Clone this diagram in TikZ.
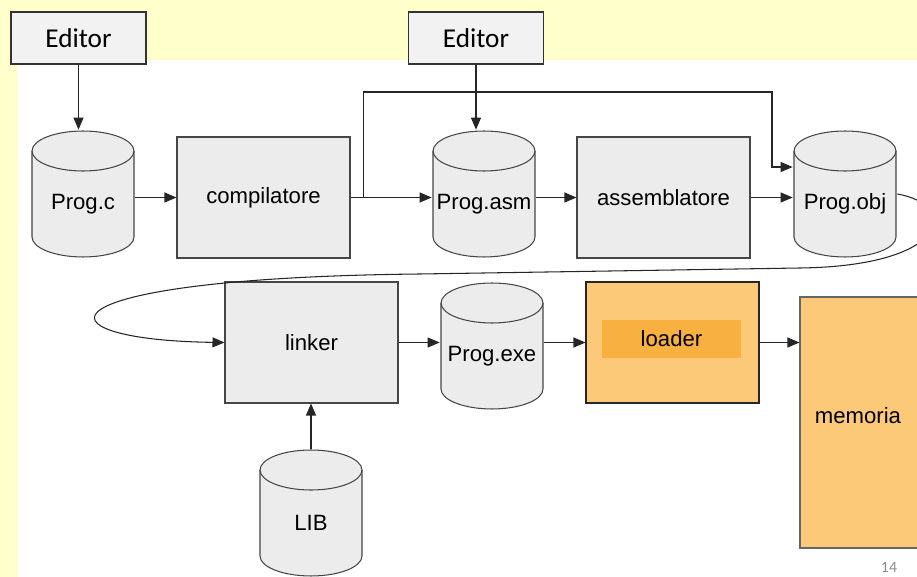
\documentclass[tikz,border=0pt]{standalone}
\usepackage{fontspec}
\setmainfont{Liberation Sans}
\newfontfamily\calibri{Carlito}
\usetikzlibrary{positioning}
\usetikzlibrary{arrows.meta}

\definecolor{slidebg}{RGB}{255,255,204}
\definecolor{boxgray}{RGB}{236,236,236}
\definecolor{edgegray}{RGB}{70,70,70}
\definecolor{loaderorange}{RGB}{251,201,120}
\definecolor{loaderdark}{RGB}{248,176,64}

\begin{document}
\begin{tikzpicture}[x=0.02cm, y=-0.02cm,
        % Grey process box
        proc/.style={draw=edgegray, fill=boxgray, line width=0.6pt,
        font=\fontsize{12.6}{15}\selectfont,
        minimum width=3.46cm, minimum height=2.42cm},
        % File on disk: a standing cylinder drawn inside the node
        disk/.style={minimum width=2.08cm, minimum height=2.56cm,
        path picture={
            \filldraw[fill=boxgray, draw=edgegray, line width=0.6pt]
                ([xshift=0.02cm, yshift=-0.42cm]path picture bounding box.north west)
                -- ([xshift=0.02cm, yshift=0.42cm]path picture bounding box.south west)
                arc[start angle=180, end angle=360, x radius=1.02cm, y radius=0.4cm]
                -- ([xshift=-0.02cm, yshift=-0.42cm]path picture bounding box.north east)
                arc[start angle=0, end angle=180, x radius=1.02cm, y radius=0.4cm]
                -- cycle;
            \draw[edgegray, line width=0.6pt]
                ([xshift=0.02cm, yshift=-0.42cm]path picture bounding box.north west)
                arc[start angle=180, end angle=360, x radius=1.02cm, y radius=0.4cm];
        }},
        % Name of the file, a little below the lid
        disktext/.style={font=\fontsize{12.6}{15}\selectfont, yshift=-0.2cm},
        % Editor boxes on the top band
        tool/.style={draw=black!80, fill=black!5, line width=0.6pt,
        font=\calibri\fontsize{15.5}{18}\selectfont,
        minimum width=2.7cm, minimum height=1.04cm},
        arr/.style={-{Triangle[length=0.24cm, width=0.2cm]}, black!85, line width=0.6pt}
    ]

    % --- Slide background ---
    \fill[slidebg] (0,0) rectangle (917,577);
    \fill[white] (18,60) rectangle (917,577);
    \useasboundingbox (0,0) rectangle (917,577);

    % --- Row 1: source to object file ---
    \node[tool] (ed1) at (78.5,38) {Editor};
    \node[tool] (ed2) at (476,38) {Editor};

    \node[disk, label={[disktext]center:Prog.c}] (pc) at (83,194) {};
    \node[proc] (comp) at (263.5,197.5) {compilatore};
    \node[disk, label={[disktext]center:Prog.asm}] (asm) at (484,194) {};
    \node[proc] (asmb) at (663.5,197.5) {assemblatore};
    \node[disk, label={[disktext]center:Prog.obj}] (obj) at (845,194) {};

    % --- Row 2: linking and loading ---
    \node[proc] (link) at (311.5,342.5) {linker};
    \node[disk, label={[disktext]center:Prog.exe}] (exe) at (492,346) {};
    \node[proc, fill=loaderorange, draw=black!85] (loader) at (672.5,342.5) {};
    \node[fill=loaderdark, font=\fontsize{12.6}{15}\selectfont,
        minimum width=2.78cm, minimum height=0.76cm] (loadtag) at (671.5,339) {loader};
    \node[proc, fill=loaderorange, draw=black!60, minimum width=2.8cm, minimum height=5.02cm,
        label={[font=\fontsize{12.6}{15}\selectfont, xshift=-0.24cm, yshift=0.13cm]center:memoria}]
        (mem) at (870,422.5) {};

    % --- Library ---
    \node[disk, label={[disktext]center:LIB}] (lib) at (311,513) {};

    % --- Arrows ---
    \draw[arr] (ed1.south) -- (ed1.south |- pc.north);
    \draw[arr] (ed2.south) -- (ed2.south |- asm.north);
    \draw[arr] (comp.west -| pc.east) -- (comp.west);
    \draw[arr] (comp.east) -- (comp.east -| asm.west);
    \coordinate (split) at ([xshift=0.26cm]comp.east);
    \draw[arr] (split) |- (772,92) |- ([yshift=0.54cm]obj.west);
    \draw[arr] (asmb.west -| asm.east) -- (asmb.west);
    \draw[arr] (asmb.east) -- (asmb.east -| obj.west);
    \draw[arr] (obj.east) .. controls (960,205) and (950,266) .. (800,268)
        -- (420,274) .. controls (30,278) and (30,340) .. (link.west);
    \draw[arr] (link.east) -- (link.east -| exe.west);
    \draw[arr] (loader.west -| exe.east) -- (loader.west);
    \draw[arr] (loader.east) -- (loader.east -| mem.west);
    \draw[arr] (lib.north) -- (lib.north |- link.south);

    % Slide number
    \node[text=black!45, font=\calibri\fontsize{9}{10}\selectfont] (pagenum) at (889,567) {14};
\end{tikzpicture}
\end{document}
